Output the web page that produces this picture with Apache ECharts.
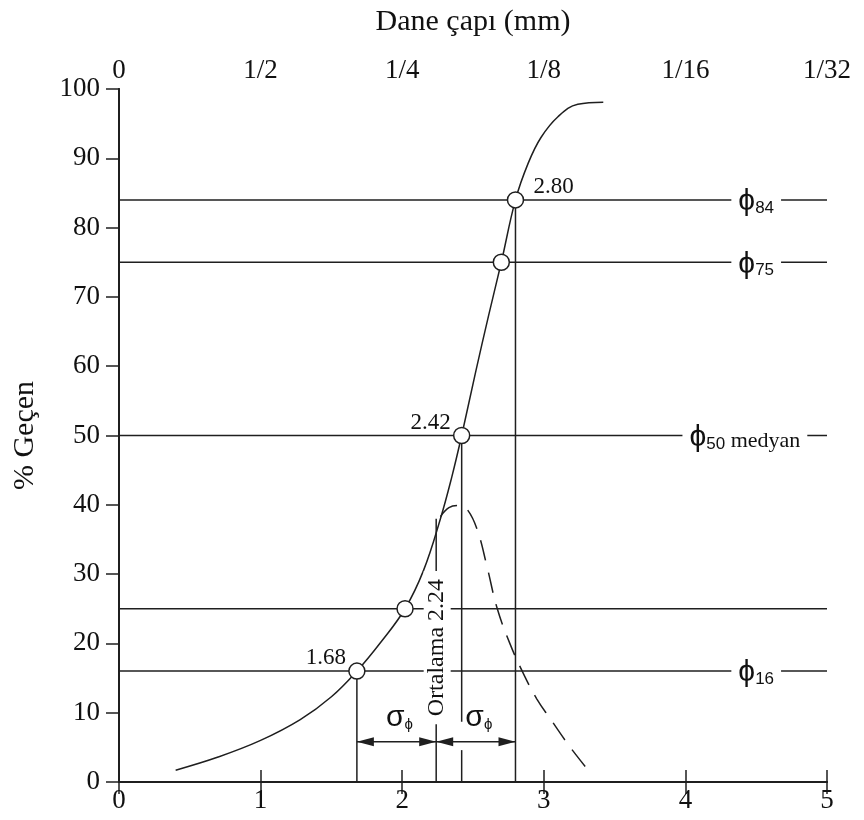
<!DOCTYPE html>
<html>
<head>
<meta charset="utf-8">
<script src="https://cdn.jsdelivr.net/npm/echarts@6/dist/echarts.min.js"></script>
<style>
  html, body { margin: 0; padding: 0; background: #fff; }
  #chart { width: 864px; height: 820px; }
</style>
</head>
<body>
<div id="chart"></div>
<script>
// Grain-size cumulative curve (phi scale) with quantile construction
const topTickLabels = ['0', '1/2', '1/4', '1/8', '1/16', '1/32'];

// cumulative % passing vs phi
const cumulative = [
  [0.40, 1.7], [0.70, 3.6], [1.00, 6.0], [1.28, 9.0], [1.50, 12.3],
  [1.68, 16], [1.85, 20.2], [2.02, 25], [2.15, 30.5], [2.27, 38],
  [2.35, 44], [2.42, 50], [2.52, 59.3], [2.61, 67.3], [2.70, 75],
  [2.80, 84], [2.89, 89.3], [2.98, 93], [3.10, 96], [3.24, 97.8], [3.42, 98.1]
];

// frequency curve (dashed)
const frequency = [
  [2.27, 38.3], [2.33, 39.6], [2.40, 39.9], [2.46, 39.3], [2.53, 36.4],
  [2.60, 31.0], [2.67, 25.1], [2.76, 20.0], [2.85, 15.9], [2.95, 12.0],
  [3.05, 9.0], [3.18, 5.2], [3.31, 1.8]
];

// percentile points read on the curve
const quantilePhi = [1.68, 2.02, 2.42, 2.70, 2.80];
const quantilePct = [16, 25, 50, 75, 84];

// horizontal percentile lines
const levelValues = [84, 75, 50, 25, 16];

// percentile labels on the right side
const levelTagPct = [84, 75, 50, 16];
const levelTagSub = ['84', '75', '50', '16'];
const levelTagExtra = ['', '', ' medyan', ''];
const levelTagPhi = [4.50, 4.50, 4.42, 4.50];

// vertical drop lines from the curve (with an optional break where the arrow passes)
const dropPhi = [1.68, 2.42, 2.80, 2.24];
const dropPct = [16, 50, 84, 38];
const dropBreakLow = [null, 4.6, null, null];
const dropBreakHigh = [null, 8.7, null, null];

// phi values written next to the points
const valuePhi = [1.68, 2.42, 2.80];
const valuePct = [16, 50, 84];

// mean and sorting
const meanPhi = 2.24;
const meanLabel = 'Ortalama 2.24';
const meanLabelPct = 19.4;
const sigmaFrom = [1.68, 2.24];
const sigmaTo = [2.24, 2.80];
const sigmaPct = 5.8;
const sigmaLabelPct = 9.3;

const INK = '#1f1f1f';
const SERIF = '"Liberation Serif", "Times New Roman", serif';
const SANS = '"Liberation Sans", Arial, "DejaVu Sans", sans-serif';

const chart = echarts.init(document.getElementById('chart'), null, { renderer: 'canvas' });

function lineItem(a, b, width) {
  return {
    type: 'line',
    shape: { x1: a[0], y1: a[1], x2: b[0], y2: b[1] },
    style: { stroke: INK, lineWidth: width }
  };
}

const axisLineStyle = { show: true, lineStyle: { color: INK, width: 2 } };
const tickFont = { fontFamily: SERIF, fontSize: 27, color: '#111' };

const option = {
  animation: false,
  backgroundColor: '#fff',
  grid: { left: 119, right: 37, top: 89, bottom: 38 },
  xAxis: [
    {
      type: 'value', min: 0, max: 5, interval: 1, position: 'bottom',
      axisLine: axisLineStyle,
      axisTick: { show: true, inside: true, length: 12, lineStyle: { color: INK, width: 1.5 } },
      axisLabel: Object.assign({ margin: 5 }, tickFont),
      splitLine: { show: false }
    },
    {
      type: 'value', min: 0, max: 5, interval: 1, position: 'top',
      axisLine: axisLineStyle,
      axisTick: { show: true, inside: true, length: 12, lineStyle: { color: INK, width: 1.5 } },
      axisLabel: Object.assign({ margin: 5, formatter: v => topTickLabels[Math.round(v)] }, tickFont),
      splitLine: { show: false },
      name: 'Dane çapı (mm)', nameLocation: 'middle', nameGap: 52,
      nameTextStyle: { fontFamily: SERIF, fontSize: 30, color: '#111' }
    }
  ],
  yAxis: [
    {
      type: 'value', min: 0, max: 100, interval: 10, position: 'left',
      axisLine: axisLineStyle,
      axisTick: { show: true, inside: false, length: 13, lineStyle: { color: INK, width: 1.5 } },
      axisLabel: Object.assign({ margin: 19 }, tickFont),
      splitLine: { show: false },
      name: '% Geçen', nameLocation: 'middle', nameGap: 79,
      nameTextStyle: { fontFamily: SERIF, fontSize: 30, color: '#111' }
    },
    {
      type: 'value', min: 0, max: 100, position: 'right',
      axisLine: axisLineStyle,
      axisTick: { show: false }, axisLabel: { show: false }, splitLine: { show: false }
    }
  ],
  series: [
    // horizontal percentile lines across the plot
    {
      type: 'custom', z: 1,
      data: levelValues.map(v => [0, v, 5, v]),
      encode: { x: [0, 2], y: [1, 3] },
      renderItem: (params, api) => lineItem(
        api.coord([api.value(0), api.value(1)]),
        api.coord([api.value(2), api.value(3)]), 1.5)
    },
    // vertical drop lines
    {
      type: 'custom', z: 2,
      data: dropPhi.map((x, i) => [x, 0, x, dropPct[i]]),
      encode: { x: [0, 2], y: [1, 3] },
      renderItem: (params, api) => {
        const i = params.dataIndex;
        const x = api.value(0);
        const y0 = api.value(1), y1 = api.value(3);
        if (dropBreakLow[i] == null) {
          return lineItem(api.coord([x, y0]), api.coord([x, y1]), 1.5);
        }
        return {
          type: 'group',
          children: [
            lineItem(api.coord([x, y0]), api.coord([x, dropBreakLow[i]]), 1.5),
            lineItem(api.coord([x, dropBreakHigh[i]]), api.coord([x, y1]), 1.5)
          ]
        };
      }
    },
    // cumulative curve
    {
      type: 'line', z: 3, data: cumulative, smooth: 0.4,
      showSymbol: false, symbol: 'none',
      lineStyle: { color: INK, width: 1.5 }
    },
    // frequency curve
    {
      type: 'line', z: 3, data: frequency, smooth: 0.4,
      showSymbol: false, symbol: 'none',
      lineStyle: { color: INK, width: 1.5, type: [21, 12] }
    },
    // sorting arrows
    {
      type: 'custom', z: 4,
      data: sigmaFrom.map((x, i) => [x, sigmaPct, sigmaTo[i], sigmaPct]),
      encode: { x: [0, 2], y: [1, 3] },
      renderItem: (params, api) => {
        const a = api.coord([api.value(0), api.value(1)]);
        const b = api.coord([api.value(2), api.value(3)]);
        const L = 17, H = 4.5;
        return {
          type: 'group',
          children: [
            lineItem(a, b, 1.5),
            { type: 'polygon', shape: { points: [[a[0], a[1]], [a[0] + L, a[1] - H], [a[0] + L, a[1] + H]] }, style: { fill: INK } },
            { type: 'polygon', shape: { points: [[b[0], b[1]], [b[0] - L, b[1] - H], [b[0] - L, b[1] + H]] }, style: { fill: INK } }
          ]
        };
      }
    },
    // sigma labels above the arrows
    {
      type: 'custom', z: 5,
      data: sigmaFrom.map((x, i) => [(x + sigmaTo[i]) / 2, sigmaLabelPct]),
      renderItem: (params, api) => {
        const p = api.coord([api.value(0), api.value(1)]);
        return {
          type: 'text', x: p[0] + 3, y: p[1],
          style: {
            text: '{s|σ}{p|ϕ}', align: 'center', verticalAlign: 'middle',
            rich: {
              s: { fontFamily: SANS, fontSize: 30, fill: '#111', verticalAlign: 'bottom', lineHeight: 30 },
              p: { fontFamily: SANS, fontSize: 15, fill: '#111', verticalAlign: 'bottom', lineHeight: 24 }
            }
          }
        };
      }
    },
    // mean label along its drop line
    {
      type: 'custom', z: 6,
      data: [[meanPhi, meanLabelPct]],
      renderItem: (params, api) => {
        const p = api.coord([api.value(0), api.value(1)]);
        return {
          type: 'text', x: p[0] + 1, y: p[1], rotation: Math.PI / 2,
          style: {
            text: meanLabel, align: 'center', verticalAlign: 'middle',
            fontFamily: SERIF, fontSize: 24, fill: '#111',
            backgroundColor: '#fff', padding: [2, 8, 1, 8]
          }
        };
      }
    },
    // percentile tags on the right
    {
      type: 'custom', z: 6,
      data: levelTagPhi.map((x, i) => [x, levelTagPct[i]]),
      renderItem: (params, api) => {
        const i = params.dataIndex;
        const p = api.coord([api.value(0), api.value(1)]);
        const extra = levelTagExtra[i] ? '{m|' + levelTagExtra[i] + '}' : '';
        return {
          type: 'text', x: p[0], y: p[1] + 2,
          style: {
            text: '{p|ϕ}{s|' + levelTagSub[i] + '}' + extra,
            align: 'center', verticalAlign: 'middle',
            backgroundColor: '#fff', padding: [0, 7, 0, 7],
            rich: {
              p: { fontFamily: SANS, fontSize: 30, fill: '#111', lineHeight: 30, verticalAlign: 'bottom' },
              s: { fontFamily: SANS, fontSize: 17, fill: '#111', lineHeight: 17, verticalAlign: 'bottom' },
              m: { fontFamily: SERIF, fontSize: 22, fill: '#111', lineHeight: 30, verticalAlign: 'bottom' }
            }
          }
        };
      }
    },
    // open circles at the percentile points
    {
      type: 'scatter', z: 7,
      data: quantilePhi.map((x, i) => [x, quantilePct[i]]),
      symbol: 'circle', symbolSize: 16,
      itemStyle: { color: '#fff', borderColor: INK, borderWidth: 1.5, opacity: 1 }
    },
    // phi values beside the points
    {
      type: 'custom', z: 8,
      data: valuePhi.map((x, i) => [x, valuePct[i]]),
      renderItem: (params, api) => {
        const x = api.value(0);
        const p = api.coord([x, api.value(1)]);
        const right = params.dataIndex === valuePhi.length - 1;
        return {
          type: 'text', x: p[0] + (right ? 18 : -11), y: p[1] - 13,
          style: {
            text: x.toFixed(2), align: right ? 'left' : 'right', verticalAlign: 'middle',
            fontFamily: SERIF, fontSize: 23, fill: '#111'
          }
        };
      }
    }
  ]
};

chart.setOption(option);
</script>
</body>
</html>
